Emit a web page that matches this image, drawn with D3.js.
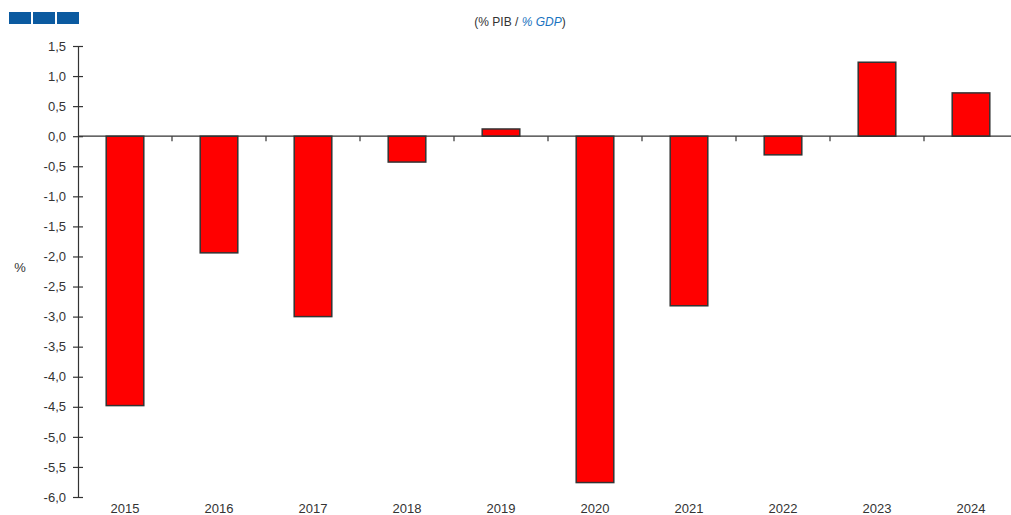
<!DOCTYPE html>
<html><head><meta charset="utf-8">
<script src="https://cdn.jsdelivr.net/npm/d3@7"></script>
<style>body{margin:0;background:#fff;overflow:hidden}svg{display:block}</style>
</head><body>
<svg id="c" width="1011" height="515"></svg>
<script>
const years = ["2015","2016","2017","2018","2019","2020","2021","2022","2023","2024"];
const values = [-4.48,-1.94,-3.0,-0.43,0.12,-5.76,-2.82,-0.31,1.23,0.72];
const yTicks = [1.5,1.0,0.5,0.0,-0.5,-1.0,-1.5,-2.0,-2.5,-3.0,-3.5,-4.0,-4.5,-5.0,-5.5,-6.0];

const svg = d3.select("#c");
const font = "Liberation Sans, Arial, sans-serif";
// logo
[0,1,2].forEach(i=>svg.append("rect").attr("x",9+i*24).attr("y",12).attr("width",22).attr("height",12).attr("fill","#0b5aa0"));

// title
const t = svg.append("text").attr("x",520).attr("y",26).attr("text-anchor","middle")
  .attr("font-family",font).attr("font-size",12).attr("fill","#333");
t.append("tspan").text("(% PIB / ");
t.append("tspan").attr("fill","#1a73c0").attr("font-style","italic").text("% GDP");
t.append("tspan").text(")");

const y = d3.scaleLinear().domain([-6,1.5]).range([497,46]);
const x = d3.scaleBand().domain(years).range([78,1018]).paddingInner(0.6).paddingOuter(0.3);

// bars
svg.selectAll("rect.bar").data(years).enter().append("rect").attr("class","bar")
  .attr("x",d=>x(d)).attr("width",x.bandwidth())
  .attr("y",(d,i)=>y(Math.max(0,values[i])))
  .attr("height",(d,i)=>Math.abs(y(values[i])-y(0)))
  .attr("fill","#ff0000").attr("stroke","#333").attr("stroke-width",1.5);

// y axis
const yAxis = d3.axisLeft(y).tickValues(yTicks).tickSize(0).tickPadding(12)
  .tickFormat(d=>d3.format(".1f")(d).replace(".",",").replace("−","-"));
const ga = svg.append("g").attr("transform","translate(78,0)").call(yAxis);
ga.select(".domain").attr("stroke","#333").attr("stroke-width",1.2);
ga.selectAll("text").attr("font-family",font).attr("font-size",13).attr("fill","#333");
ga.selectAll(".tick").append("line").attr("x1",-5).attr("x2",5).attr("stroke","#333").attr("stroke-width",1.2);

// x axis line at zero
const xLine = d3.scaleLinear().domain([0,years.length]).range([78,1018]);
svg.append("line").attr("x1",78).attr("x2",1011).attr("y1",y(0)).attr("y2",y(0)).attr("stroke","#333").attr("stroke-width",1.2);
svg.selectAll("line.xt").data(d3.range(1,years.length)).enter().append("line").attr("class","xt")
  .attr("x1",d=>xLine(d)).attr("x2",d=>xLine(d)).attr("y1",y(0)).attr("y2",y(0)+5).attr("stroke","#333").attr("stroke-width",1.2);

// x labels
svg.selectAll("text.xl").data(years).enter().append("text").attr("class","xl")
  .attr("x",d=>x(d)+x.bandwidth()/2).attr("y",513).attr("text-anchor","middle")
  .attr("font-family",font).attr("font-size",13).attr("fill","#333").text(d=>d);

// y label
svg.append("text").attr("x",20).attr("y",272).attr("text-anchor","middle")
  .attr("font-family",font).attr("font-size",13).attr("fill","#333").text("%");
</script>
</body></html>
